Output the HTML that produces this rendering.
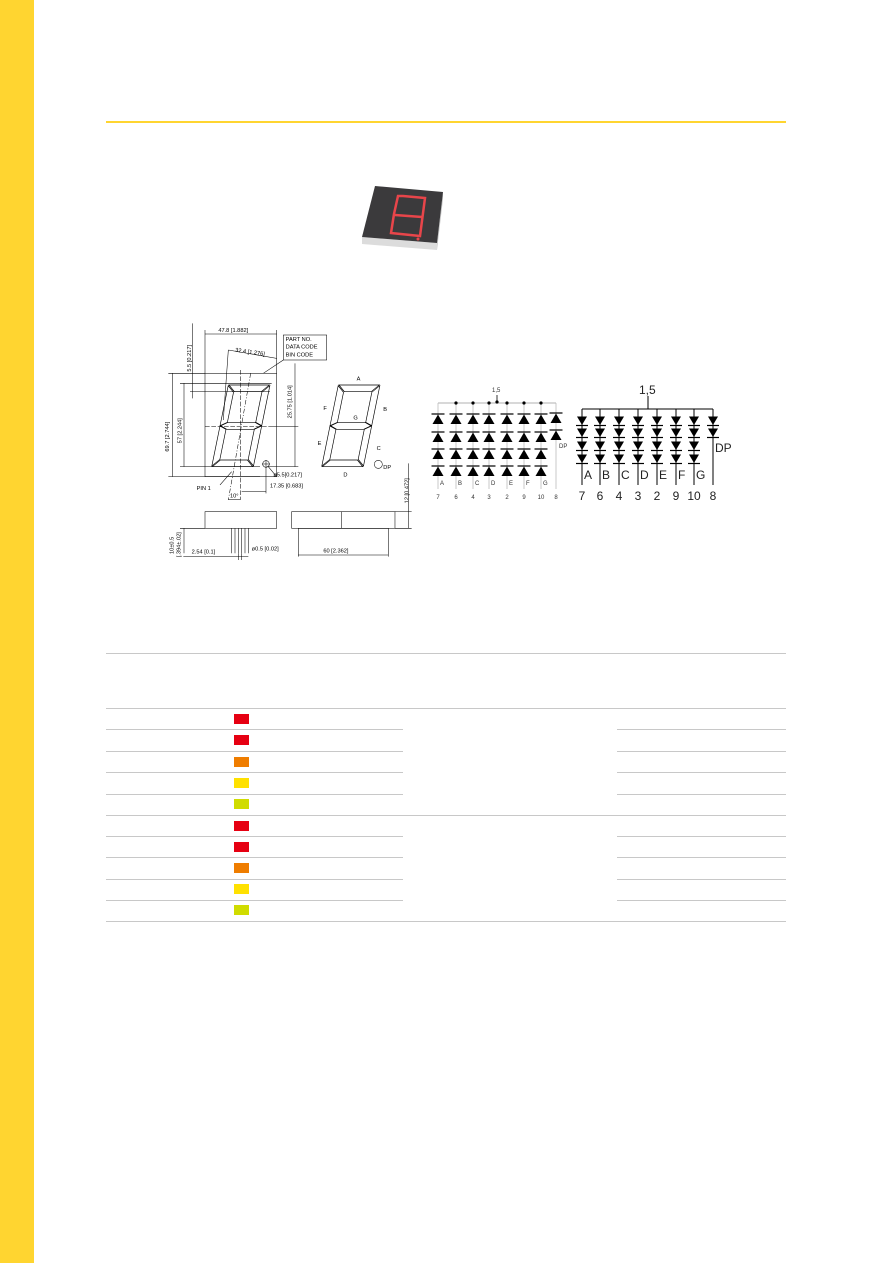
<!DOCTYPE html>
<html><head><meta charset="utf-8"><style>
html,body{margin:0;padding:0;background:#fff}
body{width:893px;height:1263px;position:relative;overflow:hidden;font-family:"Liberation Sans",sans-serif}
.bar{position:absolute;left:0;top:0;width:34px;height:1263px;background:#FFD530}
.hl{position:absolute;left:106px;top:121px;width:680px;height:2px;background:#FFD530}
.line{position:absolute;height:1px;background:#c8c8c8}
.sw{position:absolute;left:234px;width:15px;height:10px}
</style></head><body>
<div class="bar"></div>
<div class="hl"></div>

<svg width="893" height="1263" style="position:absolute;left:0;top:0">
<!-- product photo -->
<polygon points="362,237 437,243 437,250 362,244" fill="#dcdcdc"/>
<polygon points="437,243 443,192 443,199 437,250" fill="#c4c4c4"/>
<polygon points="375,186 443,192 437,243 362,237" fill="#3b3a3c"/>
<g fill="none" stroke="#e8454a" stroke-width="2.5">
<polygon points="403,196 425,198 420,236 391,233 394,214 398,196"/>
<line x1="395" y1="215" x2="422" y2="217"/>
</g>
<circle cx="418" cy="239" r="1.5" fill="#e8454a"/>

<!-- mechanical drawing -->
<defs>
<g id="dig" fill="none" stroke="#000" stroke-width="2">
<polygon points="2,0 123,0 103,20 22,20"/>
<polygon points="0,2 20,22 20,112 0,122"/>
<polygon points="125,2 125,122 105,112 105,22"/>
<polygon points="2,122.5 22,112 103,112 123,122.5 103,133 22,133"/>
<polygon points="0,123 20,133 20,223 0,243"/>
<polygon points="125,123 125,243 105,223 105,133"/>
<polygon points="2,245 22,225 103,225 123,245"/>
</g>
</defs>
<g transform="translate(160,320) scale(0.3333)" font-family="Liberation Sans,sans-serif" font-size="17" fill="#000">
<g stroke="#000" stroke-width="1.6" fill="none">
<rect x="135" y="160" width="215" height="310"/>
<line x1="135" y1="42" x2="350" y2="42"/><line x1="135" y1="30" x2="135" y2="160"/><line x1="350" y1="30" x2="350" y2="160"/>
<rect x="370" y="45" width="130" height="75"/><line x1="370" y1="120" x2="310" y2="160"/>
<line x1="205" y1="90" x2="350" y2="115"/><line x1="205" y1="90" x2="190" y2="300"/>
<line x1="38" y1="160" x2="38" y2="470"/><line x1="25" y1="160" x2="135" y2="160"/><line x1="25" y1="470" x2="300" y2="470"/>
<line x1="72" y1="190" x2="72" y2="440"/><line x1="60" y1="190" x2="335" y2="190"/><line x1="60" y1="440" x2="300" y2="440"/>
<line x1="98" y1="10" x2="98" y2="235"/><line x1="90" y1="215" x2="330" y2="215"/>
<line x1="405" y1="130" x2="405" y2="440"/><line x1="330" y1="320" x2="415" y2="320"/><line x1="320" y1="440" x2="415" y2="440"/>
<line x1="135" y1="320" x2="330" y2="320" stroke-dasharray="14,5"/>
<line x1="242" y1="150" x2="242" y2="540" stroke-dasharray="14,5"/>
<line x1="272" y1="160" x2="205" y2="540" stroke-dasharray="14,5,3,5"/>
<circle cx="318" cy="432" r="10"/><line x1="306" y1="432" x2="330" y2="432"/><line x1="318" y1="420" x2="318" y2="444"/>
<line x1="325" y1="440" x2="350" y2="470"/>
<line x1="318" y1="444" x2="318" y2="520"/><line x1="245" y1="515" x2="318" y2="515"/>
<line x1="180" y1="495" x2="215" y2="455"/>
<line x1="205" y1="538" x2="240" y2="538"/>
<rect x="135" y="575" width="215" height="50"/>
<line x1="215" y1="625" x2="215" y2="700"/><line x1="225" y1="625" x2="225" y2="700"/><line x1="235" y1="625" x2="235" y2="700"/><line x1="245" y1="625" x2="245" y2="700"/><line x1="255" y1="625" x2="255" y2="700"/><line x1="265" y1="625" x2="265" y2="700"/>
<line x1="70" y1="710" x2="265" y2="710"/><line x1="235" y1="700" x2="235" y2="720"/><line x1="245" y1="700" x2="245" y2="720"/>
<line x1="72" y1="625" x2="72" y2="700"/><line x1="60" y1="625" x2="135" y2="625"/>
<rect x="395" y="575" width="310" height="50"/><line x1="545" y1="575" x2="545" y2="625"/>
<line x1="415" y1="625" x2="415" y2="710"/><line x1="685" y1="625" x2="685" y2="710"/><line x1="415" y1="625" x2="685" y2="625"/>
<line x1="415" y1="705" x2="685" y2="705"/>
<line x1="745" y1="430" x2="745" y2="625"/><line x1="705" y1="575" x2="755" y2="575"/><line x1="705" y1="625" x2="755" y2="625"/>
<circle cx="655" cy="433" r="12"/>
</g>
<use href="#dig" transform="translate(205,195) skewX(-11.5)"/>
<use href="#dig" transform="translate(535,195) skewX(-11.5)"/>
<text x="175" y="36">47.8 [1.882]</text>
<text x="377" y="63">PART NO.</text><text x="377" y="86">DATA CODE</text><text x="377" y="109">BIN CODE</text>
<text x="225" y="95" transform="rotate(8 225 95)">32.4 [1.276]</text>
<text transform="translate(27,395) rotate(-90)">69.7 [2.744]</text>
<text transform="translate(65,370) rotate(-90)">57 [2.244]</text>
<text transform="translate(93,155) rotate(-90)">5.5 [0.217]</text>
<text transform="translate(395,295) rotate(-90)">25.75 [1.014]</text>
<text x="340" y="470">ø5.5[0.217]</text>
<text x="330" y="503">17.35 [0.683]</text>
<text x="110" y="510">PIN 1</text>
<text x="210" y="533">10°</text>
<text transform="translate(745,550) rotate(-90)">12 [0.472]</text>
<text transform="translate(40,702) rotate(-90)">10±0.5</text>
<text transform="translate(62,712) rotate(-90)">[.394±.02]</text>
<text x="95" y="700">2.54 [0.1]</text>
<text x="275" y="692">ø0.5 [0.02]</text>
<text x="490" y="697">60 [2.362]</text>
<text x="590" y="182">A</text><text x="490" y="270">F</text><text x="670" y="273">B</text><text x="580" y="298">G</text>
<text x="473" y="375">E</text><text x="650" y="390">C</text><text x="550" y="470">D</text><text x="670" y="447">DP</text>
</g>

<!-- circuits -->
<defs>
<g id="du"><polygon points="-5.5,5 5.5,5 0,-4.5" fill="#000"/><line x1="-6.5" y1="-5" x2="6.5" y2="-5" stroke="#000" stroke-width="1.2"/></g>
<g id="dd"><polygon points="-5,-4.5 5,-4.5 0,4" fill="#000"/><line x1="-6" y1="4.5" x2="6" y2="4.5" stroke="#000" stroke-width="1.2"/></g>
</defs>
<g stroke="#000" stroke-width="0.8">
<line x1="438" y1="403" x2="556" y2="403" stroke="#999"/>
<g stroke="#bbb">
<line x1="438" y1="403" x2="438" y2="489"/><line x1="456" y1="403" x2="456" y2="489"/><line x1="473" y1="403" x2="473" y2="489"/><line x1="489" y1="403" x2="489" y2="489"/><line x1="507" y1="403" x2="507" y2="489"/><line x1="524" y1="403" x2="524" y2="489"/><line x1="541" y1="403" x2="541" y2="489"/><line x1="556" y1="403" x2="556" y2="489"/>
</g>
<line x1="497" y1="395" x2="497" y2="403"/>
</g>
<g fill="#000">
<circle cx="456" cy="403" r="1.6"/><circle cx="473" cy="403" r="1.6"/><circle cx="489" cy="403" r="1.6"/><circle cx="497" cy="402" r="1.6"/><circle cx="507" cy="403" r="1.6"/><circle cx="524" cy="403" r="1.6"/><circle cx="541" cy="403" r="1.6"/>
</g>
<g>
<use href="#du" x="438" y="419"/><use href="#du" x="438" y="437"/><use href="#du" x="438" y="454"/><use href="#du" x="438" y="471"/>
<use href="#du" x="456" y="419"/><use href="#du" x="456" y="437"/><use href="#du" x="456" y="454"/><use href="#du" x="456" y="471"/>
<use href="#du" x="473" y="419"/><use href="#du" x="473" y="437"/><use href="#du" x="473" y="454"/><use href="#du" x="473" y="471"/>
<use href="#du" x="489" y="419"/><use href="#du" x="489" y="437"/><use href="#du" x="489" y="454"/><use href="#du" x="489" y="471"/>
<use href="#du" x="507" y="419"/><use href="#du" x="507" y="437"/><use href="#du" x="507" y="454"/><use href="#du" x="507" y="471"/>
<use href="#du" x="524" y="419"/><use href="#du" x="524" y="437"/><use href="#du" x="524" y="454"/><use href="#du" x="524" y="471"/>
<use href="#du" x="541" y="419"/><use href="#du" x="541" y="437"/><use href="#du" x="541" y="454"/><use href="#du" x="541" y="471"/>
<use href="#du" x="556" y="418"/><use href="#du" x="556" y="435"/>
</g>
<g font-family="Liberation Sans,sans-serif" font-size="6" fill="#333">
<text x="492" y="392">1,5</text>
<text x="440" y="485">A</text><text x="458" y="485">B</text><text x="475" y="485">C</text><text x="491" y="485">D</text><text x="509" y="485">E</text><text x="526" y="485">F</text><text x="543" y="485">G</text><text x="559" y="448">DP</text>
</g>
<g font-family="Liberation Sans,sans-serif" font-size="6" fill="#333" text-anchor="middle">
<text x="438" y="499">7</text><text x="456" y="499">6</text><text x="473" y="499">4</text><text x="489" y="499">3</text><text x="507" y="499">2</text><text x="524" y="499">9</text><text x="541" y="499">10</text><text x="556" y="499">8</text>
</g>

<g stroke="#000" stroke-width="1">
<line x1="582" y1="409" x2="713" y2="409"/><line x1="648" y1="396" x2="648" y2="409"/>
<line x1="582" y1="409" x2="582" y2="485"/><line x1="600" y1="409" x2="600" y2="485"/><line x1="619" y1="409" x2="619" y2="485"/><line x1="638" y1="409" x2="638" y2="485"/><line x1="657" y1="409" x2="657" y2="485"/><line x1="676" y1="409" x2="676" y2="485"/><line x1="694" y1="409" x2="694" y2="485"/><line x1="713" y1="409" x2="713" y2="485"/>
</g>
<g>
<use href="#dd" x="582" y="421"/><use href="#dd" x="582" y="433"/><use href="#dd" x="582" y="446"/><use href="#dd" x="582" y="459"/>
<use href="#dd" x="600" y="421"/><use href="#dd" x="600" y="433"/><use href="#dd" x="600" y="446"/><use href="#dd" x="600" y="459"/>
<use href="#dd" x="619" y="421"/><use href="#dd" x="619" y="433"/><use href="#dd" x="619" y="446"/><use href="#dd" x="619" y="459"/>
<use href="#dd" x="638" y="421"/><use href="#dd" x="638" y="433"/><use href="#dd" x="638" y="446"/><use href="#dd" x="638" y="459"/>
<use href="#dd" x="657" y="421"/><use href="#dd" x="657" y="433"/><use href="#dd" x="657" y="446"/><use href="#dd" x="657" y="459"/>
<use href="#dd" x="676" y="421"/><use href="#dd" x="676" y="433"/><use href="#dd" x="676" y="446"/><use href="#dd" x="676" y="459"/>
<use href="#dd" x="694" y="421"/><use href="#dd" x="694" y="433"/><use href="#dd" x="694" y="446"/><use href="#dd" x="694" y="459"/>
<use href="#dd" x="713" y="421"/><use href="#dd" x="713" y="433"/>
</g>
<g font-family="Liberation Sans,sans-serif" font-size="12" fill="#222">
<text x="639" y="394">1,5</text>
<text x="584" y="479">A</text><text x="602" y="479">B</text><text x="621" y="479">C</text><text x="640" y="479">D</text><text x="659" y="479">E</text><text x="678" y="479">F</text><text x="696" y="479">G</text><text x="715" y="452">DP</text>
</g>
<g font-family="Liberation Sans,sans-serif" font-size="12" fill="#222" text-anchor="middle">
<text x="582" y="500">7</text><text x="600" y="500">6</text><text x="619" y="500">4</text><text x="638" y="500">3</text><text x="657" y="500">2</text><text x="676" y="500">9</text><text x="694" y="500">10</text><text x="713" y="500">8</text>
</g>
</svg>

<!-- table -->
<div class="line" style="left:106px;top:653px;width:680px"></div>
<div class="line" style="left:106px;top:708px;width:680px"></div>
<div class="line" style="left:106px;top:729px;width:297px"></div><div class="line" style="left:617px;top:729px;width:169px"></div>
<div class="line" style="left:106px;top:751px;width:297px"></div><div class="line" style="left:617px;top:751px;width:169px"></div>
<div class="line" style="left:106px;top:772px;width:297px"></div><div class="line" style="left:617px;top:772px;width:169px"></div>
<div class="line" style="left:106px;top:794px;width:297px"></div><div class="line" style="left:617px;top:794px;width:169px"></div>
<div class="line" style="left:106px;top:815px;width:680px"></div>
<div class="line" style="left:106px;top:836px;width:297px"></div><div class="line" style="left:617px;top:836px;width:169px"></div>
<div class="line" style="left:106px;top:857px;width:297px"></div><div class="line" style="left:617px;top:857px;width:169px"></div>
<div class="line" style="left:106px;top:879px;width:297px"></div><div class="line" style="left:617px;top:879px;width:169px"></div>
<div class="line" style="left:106px;top:900px;width:297px"></div><div class="line" style="left:617px;top:900px;width:169px"></div>
<div class="line" style="left:106px;top:921px;width:680px"></div>

<div class="sw" style="top:714px;background:#e60012"></div>
<div class="sw" style="top:735px;background:#e60012"></div>
<div class="sw" style="top:757px;background:#ef7d00"></div>
<div class="sw" style="top:778px;background:#ffe100"></div>
<div class="sw" style="top:799px;background:#d0dc00"></div>
<div class="sw" style="top:821px;background:#e60012"></div>
<div class="sw" style="top:842px;background:#e60012"></div>
<div class="sw" style="top:863px;background:#ef7d00"></div>
<div class="sw" style="top:884px;background:#ffe100"></div>
<div class="sw" style="top:905px;background:#d0dc00"></div>
</body></html>
